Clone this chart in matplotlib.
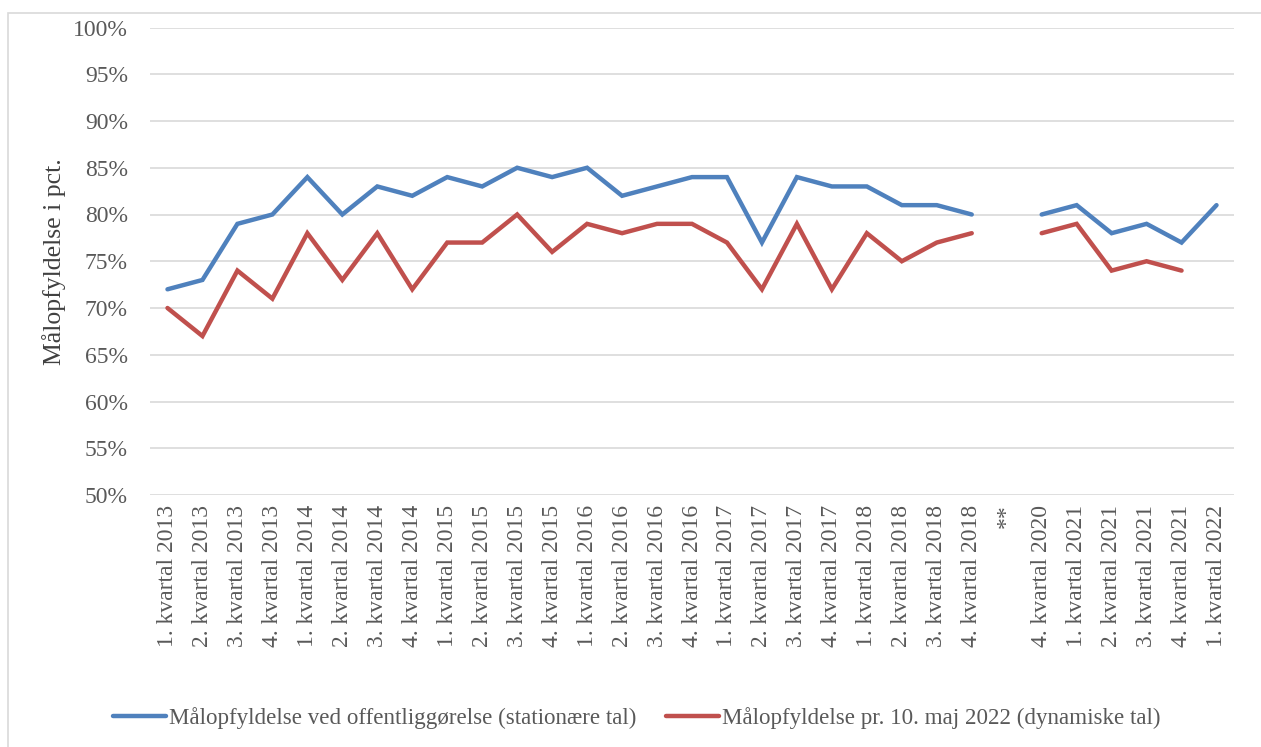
import numpy as np
import matplotlib
matplotlib.use('Agg')
import matplotlib.pyplot as plt
from matplotlib.patches import Rectangle

plt.rcParams['font.family'] = ['Liberation Serif', 'DejaVu Serif']

# kategorier (kvartaler)
kvartaler = ['1. kvartal 2013', '2. kvartal 2013', '3. kvartal 2013', '4. kvartal 2013',
             '1. kvartal 2014', '2. kvartal 2014', '3. kvartal 2014', '4. kvartal 2014',
             '1. kvartal 2015', '2. kvartal 2015', '3. kvartal 2015', '4. kvartal 2015',
             '1. kvartal 2016', '2. kvartal 2016', '3. kvartal 2016', '4. kvartal 2016',
             '1. kvartal 2017', '2. kvartal 2017', '3. kvartal 2017', '4. kvartal 2017',
             '1. kvartal 2018', '2. kvartal 2018', '3. kvartal 2018', '4. kvartal 2018',
             '**',
             '4. kvartal 2020', '1. kvartal 2021', '2. kvartal 2021', '3. kvartal 2021',
             '4. kvartal 2021', '1. kvartal 2022']

# målopfyldelse i pct. (None = ingen data)
stationaere = [72, 73, 79, 80, 84, 80, 83, 82, 84, 83, 85, 84, 85, 82, 83, 84,
               84, 77, 84, 83, 83, 81, 81, 80, None, 80, 81, 78, 79, 77, 81]
dynamiske = [70, 67, 74, 71, 78, 73, 78, 72, 77, 77, 80, 76, 79, 78, 79, 79,
             77, 72, 79, 72, 78, 75, 77, 78, None, 78, 79, 74, 75, 74, None]

navne = ['Målopfyldelse ved offentliggørelse (stationære tal)',
         'Målopfyldelse pr. 10. maj 2022 (dynamiske tal)']

GRAA = '#595959'

fig = plt.figure(figsize=(12.61, 7.47), dpi=100)
ax = fig.add_axes([150 / 1261, 1 - 495 / 747, (1234 - 150) / 1261, (495 - 27.5) / 747])

x = np.arange(len(kvartaler))
y1 = np.array([np.nan if v is None else v for v in stationaere], dtype=float)
y2 = np.array([np.nan if v is None else v for v in dynamiske], dtype=float)

ax.plot(x, y1, color='#4F81BD', lw=3.2, solid_capstyle='round', solid_joinstyle='miter', label=navne[0])
ax.plot(x, y2, color='#C0504D', lw=3.2, solid_capstyle='round', solid_joinstyle='miter', label=navne[1])

ax.set_xlim(-0.5, len(kvartaler) - 0.5)
ax.set_ylim(50, 100)
ax.set_yticks(np.arange(50, 101, 5))
ax.set_yticklabels([f'{v}%' for v in range(50, 101, 5)])
ax.set_xticks(x)
ax.set_xticklabels(kvartaler, rotation=90, va='top')

ax.grid(axis='y', color='#D9D9D9', lw=1.2)
ax.set_axisbelow(True)
for s in ax.spines.values():
    s.set_visible(False)
ax.tick_params(axis='both', length=0, colors=GRAA, labelsize=17)
ax.tick_params(axis='y', pad=16)
ax.tick_params(axis='x', pad=7)

ax.set_ylabel('Målopfyldelse i pct.', fontsize=18.5, color='#404040', labelpad=5)

leg = fig.legend(loc='center', bbox_to_anchor=(0.505, 1 - 718 / 747), ncol=2, frameon=False,
                 fontsize=16.6, handlelength=2.3, handletextpad=0.15, columnspacing=1.25,
                 labelcolor=GRAA)

# ramme om diagramområdet
fig.patches.append(Rectangle((8 / 1261, -0.01), 1.1, 1 - 13 / 747 + 0.01, transform=fig.transFigure,
                             fill=False, edgecolor='#D9D9D9', lw=1.2))

fig.savefig('out.png', dpi=100)
